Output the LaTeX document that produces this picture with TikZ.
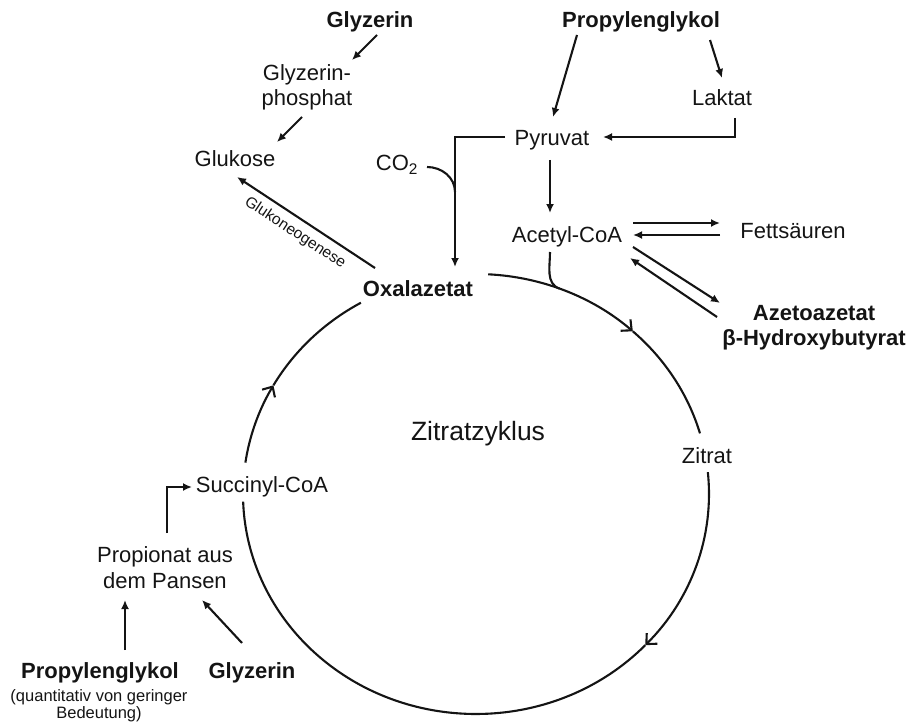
\documentclass[tikz,border=0pt]{standalone}
\usepackage{fontspec}
\setmainfont{Liberation Sans}
\usetikzlibrary{arrows.meta,calc}
\definecolor{ink}{RGB}{20,20,20}

\begin{document}
\begin{tikzpicture}[x=1pt,y=1pt,
  txt/.style={inner sep=0pt,anchor=base,text=ink,align=center,font=\fontsize{22}{25.5}\selectfont},
  bld/.style={txt,font=\fontsize{22}{25}\selectfont\bfseries},
  smalltxt/.style={txt,font=\fontsize{16.5}{17}\selectfont},
  arr/.style={draw=ink,line width=2.1pt,-{Latex[length=9pt,width=8pt]}},
  cyc/.style={draw=ink,line width=2.1pt},
  barb/.style={cyc,-{Straight Barb[length=8pt,width=15pt]}}]
  \useasboundingbox (0,0) rectangle (909,-722);

  % sources at the top (multi-line nodes sit on their last baseline)
  \node[bld] (glyA) at (370,-28) {Glyzerin};
  \node[bld] (propA) at (641,-28) {Propylenglykol};
  \node[txt] (glyph) at (307,-106) {Glyzerin-\\phosphat};
  \node[txt] (gluk) at (235,-167) {Glukose};
  \node[txt] (co2) at (397,-171) {CO\textsubscript{2}};
  \node[txt] (pyr) at (552,-146) {Pyruvat};
  \node[txt] (lakt) at (722,-106) {Laktat};
  \node[txt] (acetyl) at (567,-242) {Acetyl-CoA};
  \node[txt] (fett) at (793,-238) {Fettsäuren};
  \node[bld,font=\fontsize{22}{25}\selectfont\bfseries] (azeto) at (814,-345) {Azetoazetat\\β-Hydroxybutyrat};
  \node[bld] (oxal) at (418,-296) {Oxalazetat};

  % cycle
  \node[txt,font=\fontsize{26.5}{30}\selectfont] (zyk) at (478,-440) {Zitratzyklus};
  \node[txt] (zitrat) at (707,-463) {Zitrat};
  \node[txt] (succ) at (262,-492) {Succinyl-CoA};
  \coordinate (c) at (476,-494);
  \foreach \a/\b/\s in {171.8/150.4/barb, 150.4/119.6/cyc, 87/47.7/barb,
                        47.7/16/cyc, 5.7/-43.4/barb, -43.4/-178/cyc} {
    \draw[\s] ($(c)+(\a:233pt and 220pt)$)
      arc[start angle=\a,end angle=\b,x radius=233pt,y radius=220pt];
  }
  \coordinate (merge) at ($(c)+(69:233pt and 220pt)$);

  % bottom left
  \node[txt] (prop) at (165,-588) {Propionat aus\\dem Pansen};
  \node[bld] (propB) at (100,-678) {Propylenglykol};
  \node[bld] (glyB) at (252,-678) {Glyzerin};
  \node[smalltxt] (quant) at (99,-718) {(quantitativ von geringer\\Bedeutung)};

  % connectors
  \draw[arr] ([shift={(7,-7)}]glyA.base) -- ([shift={(45,46)}]glyph.base);
  \draw[arr] ([shift={(-5,-11)}]glyph.base) -- ([shift={(42,25)}]gluk.base);
  \draw[arr] ([shift={(-43,28)}]oxal.base) -- ([shift={(2,-10)}]gluk.base);
  \node[smalltxt,anchor=center,rotate=-33.4,font=\fontsize{15.5}{16}\selectfont] (gng) at (295,-233) {Glukoneogenese};
  \draw[arr] ([shift={(-64,-7)}]propA.base) -- ([shift={(1,29)}]pyr.base);
  \draw[arr] ([shift={(69,-12)}]propA.base) -- ([shift={(0,28)}]lakt.base);
  \draw[arr] ([shift={(13,-12)}]lakt.base) |- ([shift={(51,9)}]pyr.base);
  \coordinate (corner) at ([shift={(-97,9)}]pyr.base);
  \draw[arr] ([shift={(-47,9)}]pyr.base) -- (corner) -- ([shift={(37,29)}]oxal.base);
  \draw[cyc] ([shift={(30,4)}]co2.base) to[out=0,in=90] ([yshift=-55pt]corner);
  \draw[arr] ([shift={(-2,-14)}]pyr.base) -- ([shift={(-17,29)}]acetyl.base);
  \draw[arr] ([shift={(66,19)}]acetyl.base) -- ([shift={(-73,15)}]fett.base);
  \draw[arr] ([shift={(-73,3)}]fett.base) -- ([shift={(66,7)}]acetyl.base);
  \draw[arr] ([shift={(66,-5)}]acetyl.base) -- ([shift={(-94,42)}]azeto.base);
  \draw[arr] ([shift={(-97,28)}]azeto.base) -- ([shift={(63,-16)}]acetyl.base);
  \draw[cyc] ([shift={(-17,-10)}]acetyl.base) to[out=-90,in=160] (merge);
  \draw[arr] ([shift={(2,55)}]prop.base) |- ([shift={(-70,5)}]succ.base);
  \draw[arr] ([shift={(25,28)}]propB.base) -- ([shift={(-40,-12)}]prop.base);
  \draw[arr] ([shift={(-10,35)}]glyB.base) -- ([shift={(37,-12)}]prop.base);
\end{tikzpicture}
\end{document}
